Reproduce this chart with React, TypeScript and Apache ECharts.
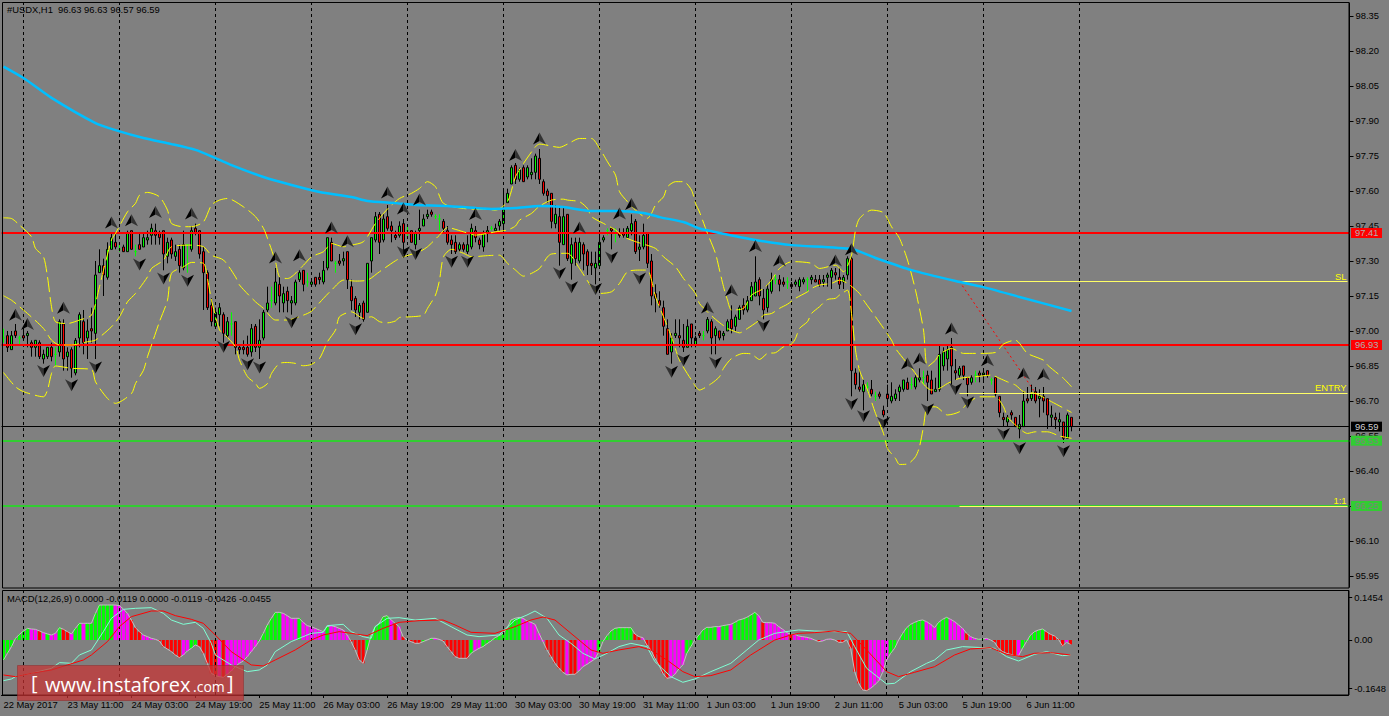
import React, { useEffect, useRef } from "react";
import * as echarts from "echarts";

// ---------- values (price x 100) ----------
// [open, close, low, high]
const candlesA = [
[9697,9697,9695,9701],[9698,9693,9691,9700],[9692,9698,9692,9700],[9700,9698,9697,9703],[9697,9697,9694,9698],[9698,9697,9696,9702],[9698,9699,9693,9700],[9695,9693,9689,9696],[9693,9696,9689,9696],[9695,9689,9688,9696],
[9688,9690,9686,9692],[9689,9693,9688,9693],[9693,9689,9687,9695],[9690,9690,9685,9693],[9691,9704,9689,9705],[9703,9688,9683,9705],[9689,9691,9683,9693],[9692,9684,9680,9693],[9682,9696,9681,9697],[9697,9707,9693,9708],
[9704,9695,9690,9709],[9697,9700,9688,9705],[9701,9700,9695,9710],[9699,9724,9688,9730],[9725,9728,9725,9735],[9728,9724,9715,9731],[9723,9735,9722,9738],[9735,9740,9735,9742],[9738,9736,9735,9742],[9735,9735,9734,9738],
[9736,9734,9734,9737],[9734,9742,9734,9743],[9743,9735,9735,9743],[9734,9734,9732,9737],[9737,9735,9735,9742],[9736,9740,9736,9742],[9739,9740,9737,9743],[9741,9744,9737,9746],[9743,9741,9737,9746],[9742,9740,9737,9743],
[9743,9733,9726,9743],[9732,9738,9729,9740],[9739,9733,9731,9740],[9732,9734,9730,9737],[9735,9728,9725,9737],[9727,9737,9726,9743],[9737,9737,9725,9737],[9735,9743,9734,9745],[9744,9742,9741,9746],[9743,9733,9731,9743],
[9734,9725,9709,9736],[9725,9710,9709,9726],[9711,9704,9702,9714],[9702,9708,9701,9710],[9707,9710,9702,9712],[9707,9699,9695,9708],[9698,9704,9697,9706],[9703,9703,9698,9708],[9704,9693,9690,9704],[9693,9692,9690,9694],
[9693,9692,9690,9696],[9693,9690,9689,9698],[9691,9701,9689,9703],[9702,9693,9691,9703],[9693,9696,9688,9705],[9697,9708,9696,9709],[9709,9712,9708,9719],[9713,9713,9710,9719],[9712,9721,9711,9727],[9720,9715,9708,9723],
[9712,9716,9708,9719],[9717,9713,9708,9719],[9712,9713,9707,9715],[9712,9721,9711,9722],[9722,9725,9721,9726],[9726,9720,9717,9726],[9721,9721,9719,9725],[9720,9721,9719,9722],[9723,9720,9719,9723],[9723,9722,9720,9725],
[9721,9726,9720,9730],[9727,9740,9726,9740],[9738,9730,9730,9740],[9729,9729,9725,9730],[9730,9729,9728,9733],[9730,9731,9728,9734],[9734,9722,9718,9734],
];
const candlesB = [
[9719,9713,9709,9722],[9714,9709,9706,9715],[9708,9711,9705,9712],[9712,9705,9704,9713],[9708,9729,9708,9729],[9730,9740,9725,9740],[9739,9749,9738,9751],[9750,9738,9733,9751],[9739,9748,9738,9750],[9749,9744,9743,9754],
[9745,9743,9738,9747],[9741,9740,9739,9743],[9741,9745,9740,9747],[9746,9738,9733,9748],[9743,9743,9740,9745],[9743,9738,9738,9743],[9737,9742,9735,9743],[9743,9744,9739,9752],[9745,9748,9745,9750],[9749,9750,9748,9752],
[9751,9750,9749,9752],[9749,9749,9748,9750],[9748,9748,9743,9750],[9747,9744,9742,9748],[9743,9738,9737,9745],[9739,9737,9733,9741],[9738,9734,9733,9741],[9735,9737,9734,9738],[9737,9735,9734,9738],[9734,9737,9733,9741],
[9736,9744,9735,9746],[9743,9740,9738,9745],[9739,9737,9735,9740],[9736,9742,9734,9743],[9742,9743,9738,9745],[9744,9744,9743,9745],[9743,9744,9743,9746],[9745,9747,9743,9748],[9746,9752,9743,9761],[9755,9759,9755,9761],
[9763,9770,9763,9771],[9771,9765,9763,9772],[9765,9769,9764,9770],[9770,9764,9764,9771],[9766,9770,9765,9771],[9767,9768,9765,9774],[9768,9775,9765,9776],[9774,9765,9763,9778],[9764,9759,9758,9765],[9760,9758,9755,9761],
[9759,9747,9744,9759],[9746,9750,9744,9754],[9749,9738,9728,9753],[9737,9749,9737,9753],[9750,9731,9730,9750],[9729,9737,9722,9740],[9738,9731,9728,9740],[9730,9738,9729,9740],[9737,9733,9726,9738],[9734,9728,9724,9735],
[9729,9728,9724,9734],[9727,9729,9720,9734],[9728,9738,9727,9742],[9739,9740,9738,9741],[9743,9743,9741,9744],[9744,9743,9735,9744],[9742,9742,9738,9744],[9742,9741,9740,9744],[9742,9741,9740,9744],[9740,9744,9740,9745],
[9743,9746,9741,9750],[9747,9734,9733,9748],[9735,9736,9730,9741],[9736,9741,9735,9746],[9742,9729,9727,9742],[9730,9715,9711,9733],[9716,9714,9708,9720],[9713,9711,9710,9717],[9710,9702,9698,9713],[9701,9690,9690,9705],
[9691,9697,9686,9699],[9698,9699,9697,9705],[9698,9697,9693,9705],[9696,9693,9691,9703],[9693,9702,9693,9705],[9703,9697,9693,9703],[9694,9697,9693,9698],[9699,9698,9697,9700],
];
const candlesC = [
[9698,9698,9696,9700],[9700,9705,9699,9706],[9704,9697,9690,9705],[9698,9701,9690,9702],[9700,9697,9696,9700],[9698,9699,9696,9700],[9700,9704,9700,9705],[9705,9701,9699,9711],[9702,9706,9700,9707],[9705,9710,9705,9711],
[9711,9709,9707,9714],[9709,9713,9708,9715],[9713,9719,9713,9721],[9715,9721,9715,9732],[9722,9715,9711,9723],[9714,9709,9705,9718],[9710,9718,9708,9720],[9717,9722,9716,9725],[9722,9722,9720,9724],[9722,9720,9717,9724],
[9721,9720,9719,9723],[9721,9721,9718,9723],[9720,9719,9718,9721],[9720,9721,9719,9722],[9719,9722,9717,9723],[9721,9722,9720,9723],[9722,9722,9717,9723],[9722,9723,9720,9724],[9722,9721,9721,9724],[9722,9720,9719,9724],
[9721,9722,9719,9724],[9723,9724,9719,9725],[9723,9726,9718,9727],[9725,9724,9722,9727],[9723,9720,9718,9727],[9721,9723,9718,9724],[9724,9731,9722,9732],[9731,9683,9672,9732],[9682,9677,9675,9684],[9676,9675,9674,9684],
[9674,9677,9666,9679],[9676,9676,9674,9678],[9675,9673,9672,9679],[9672,9672,9670,9674],[9673,9672,9671,9674],[9666,9664,9663,9668],[9673,9671,9668,9677],[9670,9672,9669,9678],[9671,9673,9670,9675],[9674,9676,9670,9677],
[9675,9679,9674,9679],[9678,9675,9675,9680],[9677,9677,9675,9680],[9676,9680,9675,9681],[9679,9680,9678,9684],[9680,9680,9677,9683],[9681,9678,9670,9683],[9679,9673,9673,9683],[9674,9675,9674,9680],[9675,9690,9674,9694],
[9685,9691,9683,9693],[9688,9692,9683,9694],[9693,9685,9676,9697],[9683,9682,9679,9688],[9681,9684,9680,9685],[9685,9681,9679,9685],[9680,9677,9672,9680],[9678,9680,9677,9681],[9681,9681,9678,9683],[9682,9681,9678,9683],
[9681,9682,9679,9683],[9683,9681,9680,9683],[9679,9679,9677,9680],[9680,9673,9672,9680],[9672,9665,9663,9672],[9663,9662,9659,9665],[9661,9663,9659,9664],[9665,9664,9662,9666],[9663,9659,9659,9663],[9658,9660,9654,9664],
[9659,9670,9659,9674],[9671,9670,9669,9676],[9671,9673,9670,9677],[9674,9670,9669,9676],[9671,9672,9663,9675],[9672,9670,9665,9676],[9671,9664,9658,9671],[9663,9664,9659,9668],[9663,9662,9658,9665],[9661,9662,9657,9665],
[9661,9654,9652,9661],[9654,9664,9654,9665],[9663,9659,9657,9663],
];

// [bar, price x 100]
const bandUpper = [[0,9748.5],[2,9748.2],[4,9745.4],[7,9740.4],[8,9735.4],[10,9731.8],[11,9723.2],[12,9710.4],[13,9704],[16,9703.2],[19,9704.7],[22,9706.8],[24,9719],[25,9726.1],[27,9739],[28,9741.8],[31,9751.1],[33,9754.7],[34,9758.2],[36,9759.4],[39,9757.5],[41,9751.8],[42,9746.1],[45,9744.7],[47,9744.7],[50,9746.8],[52,9754],[54,9756.1],[56,9756.8],[60,9753.2],[63,9749],[65,9744],[66,9739.7],[68,9729.7],[69,9723.2],[71,9722.5],[75,9728.2],[77,9731.8],[80,9734],[82,9737.5],[85,9736.1],[87,9736.8],[90,9738.3],[93,9746.1],[95,9750.4],[97,9754],[99,9756.8],[101,9758.3],[102,9759],[104,9761.1],[106,9764],[108,9761.8],[110,9754.7],[115,9752.5],[121,9752.1],[123,9751.8],[126,9755.4],[128,9766.1],[130,9771.8],[133,9779],[134,9780.1],[139,9778.7],[141,9780.1],[144,9782.5],[147,9782.5],[149,9778.3],[151,9772.5],[153,9766.8],[154,9759.7],[156,9755.4],[158,9751.8],[161,9748.3],[162,9750.4],[163,9754],[165,9757.5],[166,9761.8],[168,9764],[170,9764],[172,9760.4],[173,9754.7],[174,9751],[176,9741.8],[178,9733.2],[179,9726.1],[180,9719],[181,9713.2],[182,9709],[185,9709.7],[187,9715.4],[190,9718.2],[192,9721.8],[194,9726.8],[197,9729.7],[198,9729.7],[202,9729],[204,9726.8],[208,9728.2],[210,9725.4],[212,9732.5],[213,9743.2],[214,9748.2],[217,9751.8],[220,9750.7],[222,9744.7],[224,9739.7],[226,9730.4],[228,9717.5],[230,9700.4],[231,9684.7],[233,9687.5],[234,9690],[237,9692.5],[240,9690.4],[244,9690.4],[248,9690.8],[250,9694.4],[253,9696.1],[254,9694.7],[256,9690.4],[260,9687.5],[261,9685.4],[265,9679.7],[267,9676.1]];
const bandMiddle = [[0,9715.1],[2,9713.2],[4,9710.4],[6,9707.5],[10,9701.1],[12,9696.1],[14,9694],[17,9694],[21,9695.4],[23,9696.1],[27,9701.8],[29,9706.1],[31,9712.5],[33,9716.1],[36,9723.2],[37,9726.8],[40,9730.4],[42,9736.1],[47,9736.8],[50,9736.1],[52,9732.5],[55,9730.4],[58,9723.2],[59,9719.7],[63,9712.5],[65,9709.7],[68,9704.7],[71,9704.7],[75,9706.8],[77,9708.5],[80,9714],[82,9717.5],[85,9721.8],[88,9721.4],[91,9721.8],[94,9725.4],[98,9730.1],[100,9731.8],[104,9734],[106,9736.1],[109,9741.1],[111,9744.3],[115,9742.5],[118,9741.1],[121,9741.8],[123,9742.5],[126,9743.3],[128,9745],[129,9747.5],[132,9750.4],[134,9753.5],[137,9756.1],[140,9756.5],[141,9756.1],[144,9755.4],[146,9752.5],[147,9749],[150,9746.1],[153,9743.3],[155,9740.4],[158,9738.3],[163,9735.4],[165,9731.8],[168,9727.5],[170,9722.5],[173,9716.1],[174,9711.8],[176,9708.2],[178,9705],[181,9701.1],[183,9699.7],[184,9699.2],[186,9701.1],[189,9704.7],[190,9706.8],[192,9707.5],[194,9709.7],[196,9711.5],[198,9714],[201,9716.8],[202,9718.2],[204,9719.7],[207,9720.4],[209,9721.8],[211,9720.4],[214,9716.1],[215,9713.2],[218,9706.1],[222,9696.1],[223,9692.5],[227,9684],[232,9674.7],[234,9675.4],[236,9677.5],[239,9679.7],[243,9680.4],[247,9681.1],[249,9679.7],[251,9678.2],[253,9676.8],[255,9674],[258,9673.2],[262,9669.7],[267,9665.1]];
const bandLower = [[0,9682.2],[3,9676.1],[5,9674],[10,9671.8],[11,9674.7],[12,9681.8],[13,9685],[17,9684],[22,9683.5],[23,9678.2],[26,9671.1],[28,9669],[32,9673.2],[33,9677.5],[35,9683.2],[36,9689],[37,9694],[39,9704],[41,9713.2],[42,9724.7],[45,9727.5],[47,9729.4],[50,9729],[51,9722.5],[52,9713.2],[54,9700.4],[55,9699],[58,9693.2],[59,9687.5],[61,9680.4],[63,9677.5],[64,9675.4],[66,9677.5],[67,9681.8],[69,9686.1],[71,9686.5],[73,9686.1],[75,9685.1],[77,9685.7],[79,9688.2],[81,9695.4],[83,9700.4],[84,9706.1],[87,9708.2],[90,9705.4],[92,9706.1],[94,9704],[96,9703.5],[98,9704.3],[99,9705.8],[102,9706.1],[105,9706.8],[106,9709.7],[108,9715.4],[109,9721.8],[110,9731.8],[112,9735],[115,9733.3],[117,9731.8],[121,9732.3],[124,9732.5],[126,9729],[128,9726.1],[130,9723.5],[132,9724.7],[134,9726.8],[136,9731.8],[137,9733],[141,9733.3],[144,9726.8],[147,9719],[149,9716.1],[152,9716.8],[154,9720.4],[156,9725.4],[159,9726.1],[161,9726.1],[162,9721.8],[163,9714.7],[165,9706.1],[167,9697.5],[169,9687.5],[172,9679],[174,9674.7],[177,9677.5],[179,9680.4],[180,9684],[182,9688.2],[185,9690.4],[187,9690.1],[189,9687.8],[191,9690.4],[193,9690.7],[195,9693.2],[197,9694.4],[198,9696.8],[199,9701.1],[201,9704],[202,9707.5],[204,9710.4],[206,9713.5],[208,9714],[209,9715.4],[211,9717.5],[212,9707.5],[213,9691.8],[214,9683.2],[216,9674.7],[218,9664.7],[220,9656.1],[221,9649.7],[223,9645.4],[224,9642.8],[226,9643],[228,9646.1],[229,9650.4],[230,9659],[231,9667.5],[233,9667.5],[236,9664],[239,9665.4],[241,9669],[244,9671.8],[248,9671.8],[250,9667.5],[251,9663.2],[253,9659.7],[256,9656.1],[258,9656.8],[261,9656.8],[264,9655],[267,9654]];
const movingAverage = [[0,9813.3],[5,9808.4],[12,9799.9],[23,9789.1],[28,9786.1],[35,9782.7],[42,9780.1],[48,9777.6],[53,9774.1],[57,9771.1],[65,9766],[72,9762.6],[79,9759.6],[87,9757.4],[91,9755.7],[98,9754.8],[103,9754],[111,9753.6],[122,9752.3],[128,9752.7],[134,9753.6],[140,9753.1],[147,9751.4],[153,9751.4],[160,9750.6],[164,9748.8],[170,9746.7],[174,9743.9],[179,9742],[188,9739],[197,9736.8],[212,9735.1],[218,9731.3],[227,9726.1],[238,9721.4],[245,9718.8],[254,9714.6],[267,9708.6]];

const fractalsUp = [[3,9707],[6,9703],[15,9710],[27,9746.5],[32,9747.5],[38,9751],[47,9750.4],[68,9731.5],[74,9732.5],[82,9744.4],[86,9738.5],[96,9759.4],[100,9752.5],[104,9756.4],[118,9750.1],[128,9775.4],[134,9782.5],[144,9744.4],[154,9750.4],[157,9754.4],[176,9710.1],[182,9717.5],[188,9736.4],[194,9730.2],[208,9730.2],[212,9735],[226,9686.1],[229,9688.2],[237,9701.1],[246,9687.5],[255,9681.8],[260,9681.5]];
const fractalsDown = [[10,9682.8],[17,9676.7],[23,9684.4],[34,9728.5],[40,9722.5],[46,9721.5],[55,9693.2],[61,9685.7],[64,9684.4],[72,9703.7],[88,9700.7],[100,9733.7],[103,9733],[112,9729.7],[116,9729.7],[139,9724.7],[142,9718.7],[148,9718],[152,9731.5],[159,9722.5],[167,9682.5],[170,9687.5],[178,9686.4],[190,9702.2],[212,9668.7],[215,9663.5],[220,9660.7],[231,9666.4],[238,9675.1],[241,9669.4],[250,9655.8],[254,9649.7],[265,9648.5]];

// MACD x 10000, one per bar
const macdHist = [-676,-451,-225,56,192,304,394,372,361,304,248,203,169,225,417,361,282,203,394,564,564,564,564,902,1183,1183,1183,1183,1183,1161,1048,902,676,417,282,169,113,56,23,-34,-225,-304,-394,-507,-597,-507,-372,-282,-169,-225,-451,-789,-1127,-1206,-1240,-1262,-1161,-1048,-902,-789,-710,-564,-394,-225,-34,225,507,733,935,935,902,823,733,733,733,597,485,451,394,338,282,451,485,451,394,338,169,-56,-338,-676,-789,-338,169,451,564,789,823,676,564,451,113,0,-56,-113,-113,-56,0,56,56,23,-34,-225,-394,-564,-620,-620,-620,-451,-361,-282,-225,-124,-34,79,147,225,394,676,733,766,733,642,597,530,225,-56,-338,-564,-789,-958,-1093,-1183,-1161,-1161,-1048,-902,-823,-733,-642,-394,-56,147,304,394,417,417,417,417,203,113,79,-169,-338,-620,-845,-1127,-1296,-1274,-1161,-980,-845,-451,-225,0,169,338,428,428,451,451,485,507,530,597,676,710,766,845,935,823,597,586,586,564,451,361,248,192,192,135,113,90,56,0,-56,-34,23,34,0,-79,-79,0,-282,-1071,-1465,-1691,-1713,-1634,-1521,-1386,-1093,-676,-451,-282,0,225,417,530,597,654,676,620,530,417,597,699,766,699,620,507,394,225,113,56,23,34,56,0,-79,-282,-394,-451,-485,-530,-530,-282,-56,169,282,338,372,282,192,135,23,-203,-79,-147];
const macdColourKeys = "GGGGGGGMMRMGMMGRRMGGMGGGGGGGMMMMRRRMMMMRRRRRRMMGGRRRRRMRMMMMMMMMGGGGGGMMMMGMMMMMMGMMMMMRRRRGGGGGGMRMRRRRRGGGMMRRRRRRRGMMGGGGGGGGGGMMMMMMRRRRRMRRMMMMMGGGGGGGGGRRMRRRRRRMMMMGGGGGGGGMGGMGGGGGGMRMMMMMMRMMMMMMRMMMMRRGRRRRRMMMMMGGGGGGGGGMMMGGGMMMMRMMGGMMRRRRRRMGGGGGGRRRRRMR";
const macdAqua = [[0,-1375],[2,-1319],[3,-1240],[7,-1127],[12,-958],[14,-766],[17,-789],[19,-507],[22,-338],[25,282],[27,733],[30,1037],[33,1071],[37,1093],[40,902],[42,676],[45,530],[48,597],[50,394],[52,-113],[53,-507],[57,-845],[61,-1071],[64,-1014],[66,-845],[68,-394],[72,-56],[77,225],[80,259],[81,485],[85,530],[87,282],[90,113],[92,56],[93,451],[96,733],[99,755],[103,676],[108,733],[112,451],[116,169],[119,113],[124,169],[128,676],[131,845],[133,980],[136,733],[139,169],[142,-113],[145,-451],[148,-642],[151,-451],[154,-225],[157,-113],[161,-225],[163,-733],[167,-1240],[170,-1431],[173,-1319],[177,-1071],[182,-789],[186,-338],[189,0],[193,225],[197,304],[199,338],[203,304],[208,282],[211,282],[213,-225],[216,-958],[221,-1488],[223,-1465],[227,-1071],[231,-789],[233,-676],[236,-338],[240,-225],[245,-259],[248,-282],[251,-564],[254,-710],[258,-485],[261,-394],[265,-530],[267,-507]];
const macdRed = [[0,-1183],[3,-1240],[7,-1127],[12,-1014],[16,-845],[20,-676],[22,-507],[26,-56],[29,451],[32,789],[37,980],[40,980],[43,823],[47,699],[50,564],[53,169],[57,-394],[62,-845],[65,-879],[68,-676],[73,-338],[77,0],[80,169],[84,282],[87,225],[91,147],[95,394],[99,597],[104,654],[110,676],[113,507],[117,259],[123,225],[128,451],[132,676],[135,778],[138,676],[143,113],[147,-338],[150,-451],[154,-338],[159,-225],[162,-338],[166,-676],[170,-1071],[173,-1240],[177,-1206],[182,-1014],[187,-507],[193,0],[197,169],[199,225],[203,248],[208,304],[212,225],[216,-338],[221,-1071],[224,-1240],[228,-1093],[233,-902],[238,-507],[242,-304],[247,-259],[251,-485],[255,-564],[258,-451],[262,-428],[267,-507]];

const priceTicks = [98.35,98.2,98.05,97.9,97.75,97.6,97.45,97.3,97.15,97,96.85,96.7,96.55,96.4,96.25,96.1,95.95];
const macdTicks = [0.1454,0,-0.1648];
const timeLabels = ["22 May 2017","23 May 11:00","24 May 03:00","24 May 19:00","25 May 11:00","26 May 03:00","26 May 19:00","29 May 11:00","30 May 03:00","30 May 19:00","31 May 11:00","1 Jun 03:00","1 Jun 19:00","2 Jun 11:00","5 Jun 03:00","5 Jun 19:00","6 Jun 11:00"];
const levels = [
  { value: 97.417, text: "97.41", color: "#ff0000", text2: "#b0b0b0", width: 2 },
  { value: 96.937, text: "96.93", color: "#ff0000", text2: "#b0b0b0", width: 2 },
  { value: 96.59, text: "96.59", color: "#000000", text2: "#d0d0d0", width: 1 },
  { value: 96.53, text: "96.53", color: "#32cd32", text2: "#808080", width: 2 },
  { value: 96.25, text: "96.25", color: "#32cd32", text2: "#808080", width: 2 },
];
const tradeLevels = [
  { name: "SL", value: 97.212 },
  { name: "ENTRY", value: 96.734 },
  { name: "1:1", value: 96.25 },
];
const tradeStartBar = 239;
const tradeDiagonal = [[239, 97.212], [258, 96.734]];
const headerText = "#USDX,H1  96.63 96.63 96.57 96.59";
const macdText = "MACD(12,26,9) 0.0000 -0.0119 0.0000 -0.0119 -0.0426 -0.0455";

// ---------- helpers ----------
const BAR_SLOTS = 337;
const FONT = "'Liberation Sans', sans-serif";
const FS = 9.4;
const candles = [...candlesA, ...candlesB, ...candlesC].map((r) => r.map((v) => v / 100));
const toPrice = (rows: number[][]) => rows.map(([i, v]) => [i, v / 100]);
const toMacd = (rows: number[][]) => rows.map(([i, v]) => [i, v / 10000]);
const categories = Array.from({ length: BAR_SLOTS }, (_, i) => (i % 16 === 0 ? timeLabels[i / 16] ?? "" : ""));
const dayBars = Array.from({ length: 12 }, (_, k) => 5 + 24 * k);
const colourOf: Record<string, string> = { G: "#00ff00", M: "#ff00ff", R: "#ff0000" };

const upLeft = "path://M7 0L0 14L7 10Z";
const upRight = "path://M7 0L14 14L7 10Z";
const downLeft = "path://M0 0L7 4L7 14Z";
const downRight = "path://M14 0L7 4L7 14Z";

function fractal(data: number[][], left: string, right: string, leftCol: string, rightCol: string) {
  const pts = toPrice(data);
  const base = { type: "scatter", xAxisIndex: 0, yAxisIndex: 0, data: pts, silent: true, z: 7 };
  return [
    { ...base, symbol: left, symbolSize: [6.5, 12], symbolOffset: [-3.25, 0], itemStyle: { color: leftCol, opacity: 1 } },
    { ...base, symbol: right, symbolSize: [6.5, 12], symbolOffset: [3.25, 0], itemStyle: { color: rightCol, opacity: 1 } },
  ];
}

function band(rows: number[][]) {
  return {
    type: "line", xAxisIndex: 0, yAxisIndex: 0, data: toPrice(rows), showSymbol: false, smooth: 0.25, silent: true, z: 6,
    lineStyle: { color: "#ffff00", width: 1, type: [15, 5] },
  };
}

function dayLines(xAxisIndex: number, yAxisIndex: number) {
  return {
    type: "line", xAxisIndex, yAxisIndex, data: [], silent: true, z: 1,
    markLine: {
      silent: true, symbol: "none", animation: false, label: { show: false },
      lineStyle: { color: "#000000", width: 1, type: [3, 3] },
      data: dayBars.map((b) => ({ xAxis: b })),
    },
  };
}

export default function App() {
  const ref = useRef<HTMLDivElement>(null);
  useEffect(() => {
    document.body.style.margin = "0";
    document.body.style.background = "#808080";
    const chart = echarts.init(ref.current!, undefined, { renderer: "svg" });
    const commonX = { type: "category", data: categories, boundaryGap: true };
    const option: any = {
      animation: false,
      backgroundColor: "#808080",
      textStyle: { fontFamily: FONT },
      grid: [
        { left: 1.5, top: 3, width: 1348, height: 584 },
        { left: 1.5, top: 591, width: 1348, height: 104 },
      ],
      xAxis: [
        { ...commonX, gridIndex: 0, axisLine: { show: false, onZero: false }, axisTick: { show: false }, axisLabel: { show: false }, splitLine: { show: false } },
        {
          ...commonX, gridIndex: 1, position: "bottom",
          axisLine: { show: true, onZero: false, lineStyle: { color: "#000" } },
          axisTick: { show: true, length: 3, alignWithLabel: true, interval: (i: number) => i % 16 === 0 && i > 0 && i <= 256, lineStyle: { color: "#000" } },
          axisLabel: { show: true, interval: (i: number) => i % 16 === 0 && i <= 256, align: "left", margin: 5, color: "#000", fontSize: FS, fontFamily: FONT, hideOverlap: false },
          splitLine: { show: false },
        },
      ],
      yAxis: [
        {
          type: "value", gridIndex: 0, position: "right", min: 95.9028, max: 98.4057,
          axisLine: { show: true, lineStyle: { color: "#000" } },
          axisTick: { show: true, length: 4, customValues: priceTicks, lineStyle: { color: "#000" } },
          axisLabel: { show: true, customValues: priceTicks, margin: 6, color: "#000", fontSize: FS, fontFamily: FONT, formatter: (v: number) => v.toFixed(2) },
          splitLine: { show: false },
        },
        {
          type: "value", gridIndex: 1, position: "right", min: -0.1861, max: 0.1657,
          axisLine: { show: true, lineStyle: { color: "#000" } },
          axisTick: { show: true, length: 4, customValues: macdTicks, lineStyle: { color: "#000" } },
          axisLabel: { show: true, customValues: macdTicks, margin: 6, color: "#000", fontSize: FS, fontFamily: FONT, formatter: (v: number) => (Math.abs(v) < 1e-9 ? "0.00" : v.toFixed(4)) },
          splitLine: { show: false },
        },
      ],
      series: [
        dayLines(0, 0),
        dayLines(1, 1),
        {
          type: "candlestick", xAxisIndex: 0, yAxisIndex: 0, data: candles, barWidth: 2, silent: true, z: 3,
          itemStyle: { color: "#00ff00", color0: "#ff0000", borderColor: "#000000", borderColor0: "#000000", borderColorDoji: "#00ff00", borderWidth: 1 },
        },
        // horizontal levels with their price tags
        {
          type: "line", xAxisIndex: 0, yAxisIndex: 0, data: [], silent: true, z: 4,
          markLine: {
            silent: true, symbol: "none", animation: false,
            data: levels.map((l) => ({
              yAxis: l.value,
              lineStyle: { color: l.color, width: l.width, type: "solid" },
              label: {
                show: true, position: "end", distance: 1.5, formatter: l.text, color: l.text2, backgroundColor: l.color,
                fontSize: FS, fontFamily: FONT, padding: [1, 4, 0, 4], width: 23, align: "left",
              },
            })),
          },
        },
        // SL / ENTRY / 1:1
        {
          type: "line", xAxisIndex: 0, yAxisIndex: 0, data: [], silent: true, z: 5,
          markLine: {
            silent: true, symbol: "none", animation: false,
            lineStyle: { color: "#ffff66", width: 1, type: "solid" },
            label: { show: true, position: "insideEndTop", distance: 1, color: "#ffff00", fontSize: FS, fontFamily: FONT },
            data: tradeLevels.map((t) => [
              { coord: [tradeStartBar, t.value], label: { formatter: t.name } },
              { coord: [BAR_SLOTS - 1, t.value] },
            ]),
          },
        },
        {
          type: "line", xAxisIndex: 0, yAxisIndex: 0, data: tradeDiagonal, showSymbol: false, silent: true, z: 5,
          lineStyle: { color: "#ff0000", width: 1, type: [2, 3] },
        },
        band(bandUpper),
        band(bandMiddle),
        band(bandLower),
        {
          type: "line", xAxisIndex: 0, yAxisIndex: 0, data: toPrice(movingAverage), showSymbol: false, smooth: 0.2, silent: true, z: 6,
          lineStyle: { color: "#00bfff", width: 2.5 },
        },
        ...fractal(fractalsUp, upLeft, upRight, "#000000", "#333333"),
        ...fractal(fractalsDown, downLeft, downRight, "#333333", "#000000"),
        // MACD pane
        {
          type: "bar", xAxisIndex: 1, yAxisIndex: 1, barWidth: 3, silent: true, z: 3,
          data: macdHist.map((v, i) => ({ value: v / 10000, itemStyle: { color: colourOf[macdColourKeys[i]] ?? "#ff00ff" } })),
        },
        {
          type: "line", xAxisIndex: 1, yAxisIndex: 1, data: macdHist.map((v) => v / 10000), showSymbol: false, silent: true, z: 4,
          lineStyle: { color: "#c0c0c0", width: 1 },
        },
        {
          type: "line", xAxisIndex: 1, yAxisIndex: 1, data: toMacd(macdAqua), showSymbol: false, silent: true, z: 5,
          lineStyle: { color: "#7fffd4", width: 1 },
        },
        {
          type: "line", xAxisIndex: 1, yAxisIndex: 1, data: toMacd(macdRed), showSymbol: false, silent: true, z: 5,
          lineStyle: { color: "#ff0000", width: 1 },
        },
      ],
      graphic: [
        { type: "rect", shape: { x: 2.5, y: 2.5, width: 1346.5, height: 585.5 }, style: { fill: "none", stroke: "#000", lineWidth: 1 }, silent: true, z: 20 },
        { type: "rect", shape: { x: 2.5, y: 590.5, width: 1346.5, height: 104.5 }, style: { fill: "none", stroke: "#000", lineWidth: 1 }, silent: true, z: 20 },
        { type: "text", x: 7, y: 5, style: { text: headerText, fill: "#000", font: `${FS}px ${FONT}` }, silent: true, z: 21 },
        { type: "text", x: 7, y: 594, style: { text: macdText, fill: "#000", font: `${FS}px ${FONT}` }, silent: true, z: 21 },
        { type: "rect", shape: { x: 17.5, y: 665.5, width: 226, height: 35 }, style: { fill: "rgba(200,50,50,0.72)", stroke: "rgba(140,40,40,0.5)", lineWidth: 1 }, silent: true, z: 30 },
        { type: "text", x: 31, y: 672, style: { text: "[", fill: "#fff", font: "20px 'Open Sans', sans-serif" }, silent: true, z: 31 },
        { type: "text", x: 45, y: 674, style: { text: "www.instaforex", fill: "#fff", font: "20px 'Open Sans', sans-serif" }, silent: true, z: 31 },
        { type: "text", x: 193, y: 679, style: { text: ".com", fill: "#fff", font: "14px 'Open Sans', sans-serif" }, silent: true, z: 31 },
        { type: "text", x: 227, y: 672, style: { text: "]", fill: "#fff", font: "20px 'Open Sans', sans-serif" }, silent: true, z: 31 },
      ],
    };
    chart.setOption(option);
    return () => chart.dispose();
  }, []);
  return <div ref={ref} style={{ position: "absolute", left: 0, top: 0, width: 1389, height: 716 }} />;
}
